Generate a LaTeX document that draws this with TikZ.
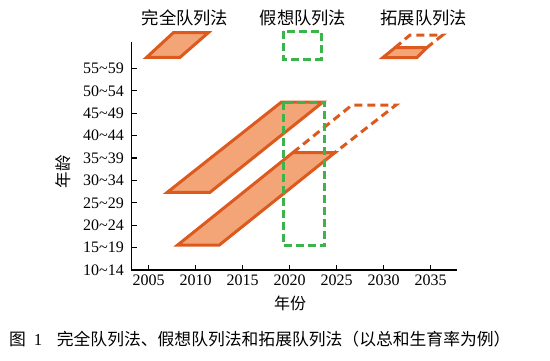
\documentclass[tikz,border=0pt]{standalone}
\usepackage{fontspec}
\setmainfont{Liberation Serif}
\newfontfamily\cjk{Noto Sans CJK SC}
\definecolor{ostroke}{RGB}{220,90,30}
\definecolor{ofill}{RGB}{243,165,120}
\definecolor{gstroke}{RGB}{60,180,75}
\begin{document}
\begin{tikzpicture}[x=1pt,y=-1pt,
  cohort/.style={draw=ostroke, fill=ofill, line width=3pt},
  extcohort/.style={draw=ostroke, line width=3pt, dash pattern=on 8pt off 5pt},
  hypo/.style={draw=gstroke, line width=3pt, dash pattern=on 8pt off 4pt},
  axisline/.style={line width=1.3pt},
  ticklab/.style={font=\fontsize{16}{16}\selectfont, inner sep=0pt},
  cjklab/.style={font=\cjk\fontsize{17.3}{17.3}\selectfont, inner sep=0pt},
  caplab/.style={font=\cjk\fontsize{16.8}{16.8}\selectfont, inner sep=0pt}]
\useasboundingbox (0,0) rectangle (550,360);
% axes
\coordinate (O) at (131.5,270);
\coordinate (ytop) at (131.5,42);
\coordinate (xend) at (457.3,270);
\draw[axisline] (ytop) -- (O) -- (xend);
\foreach \yr [count=\i from 0] in {2005,2010,2015,2020,2025,2030,2035} {
  \pgfmathsetmacro\xx{148.7+47*\i}
  \draw[axisline] (\xx,270) -- (\xx,265);
  \node[ticklab, anchor=north] (xt\i) at (\xx,275) {\yr};
}
\foreach \lo/\hi [count=\i from 0] in {10/14,15/19,20/24,25/29,30/34,35/39,40/44,45/49,50/54,55/59} {
  \pgfmathsetmacro\yy{270-22.4*\i}
  \draw[axisline] (131.5,\yy) -- (137,\yy);
  \node[ticklab, anchor=east] (yt\i) at (124,\yy) {\lo\textasciitilde\hi};
}
\node[cjklab, font=\cjk\fontsize{16}{16}\selectfont] (xlab) at (290,303) {年份};
\node[cjklab, font=\cjk\fontsize{16.5}{16.5}\selectfont, rotate=90] (ylab) at (63.3,171.7) {年龄};
% cohort shapes
\draw[cohort] (167.3,192.3) -- (210,192.3) -- (323,102) -- (281.5,102) -- cycle;
\draw[extcohort] (293,152.5) -- (352,105) -- (396,105) -- (335,152.5);
\draw[cohort] (177.7,245) -- (219.3,245) -- (335,152.5) -- (293,152.5) -- cycle;
\draw[hypo] (283.3,102) rectangle (324.5,245.7);
% legend
\node[cjklab] (leg1) at (185,18) {完全队列法};
\node[cjklab] (leg2) at (303,18) {假想队列法};
\node[cjklab] (leg3) at (423.7,18) {拓展队列法};
\draw[cohort] (146.7,57.3) -- (180,57.3) -- (208.3,32.7) -- (173.3,32.7) -- cycle;
\draw[hypo] (283.3,31) rectangle (321,59.3);
\draw[extcohort] (395,47.7) -- (410,35) -- (442.7,35) -- (426.7,47.7);
\draw[cohort] (382.7,57.7) -- (416.7,57.7) -- (426.7,47.7) -- (395,47.7) -- cycle;
% caption
\node[caplab, anchor=west] (capnum) at (9,339) {图\hspace{8pt}{\rmfamily 1}};
\node[caplab, anchor=west] (captext) at (56.7,339) {完全队列法、假想队列法和拓展队列法（以总和生育率为例）};
\end{tikzpicture}
\end{document}
